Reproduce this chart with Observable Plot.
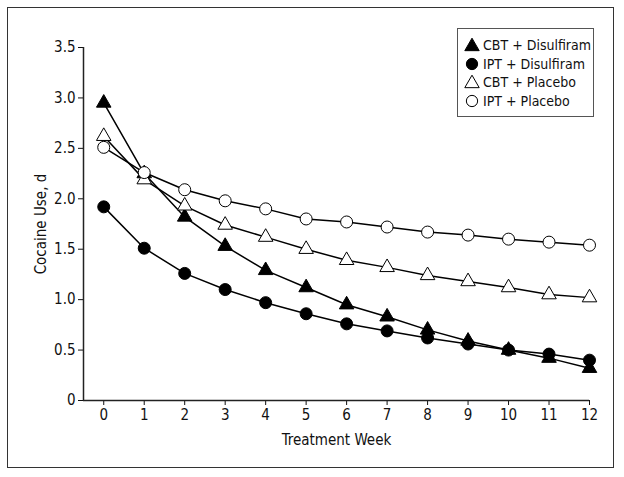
<!DOCTYPE html>
<html>
<head>
<meta charset="utf-8">
<script src="https://cdn.jsdelivr.net/npm/d3@7"></script>
<script src="https://cdn.jsdelivr.net/npm/@observablehq/plot@0.6"></script>
<style>
  html, body { margin: 0; padding: 0; background: #fff; }
  #wrap { position: relative; width: 624px; height: 477px; font-family: "Liberation Sans Narrow", "Arial Narrow", "DejaVu Sans Condensed", sans-serif; }
  #border { position: absolute; left: 7px; top: 7px; width: 605px; height: 459px; border: 1.5px solid #333; pointer-events: none; }
  #legend { position: absolute; left: 457px; top: 28px; width: 137px; height: 89px; border: 1px solid #555; background: #fff; box-sizing: border-box; padding: 7px 0 0 6px; }
  .item { display: flex; align-items: center; height: 18.5px; font-size: 14px; color: #111; white-space: nowrap; }
  .item svg { margin-right: 3px; flex: none; }
</style>
</head>
<body>
<div id="wrap">
  <div id="chart"></div>
  <div id="border"></div>
  <div id="legend"></div>
</div>
<script>
const weeks = [0,1,2,3,4,5,6,7,8,9,10,11,12];
const seriesNames = ["CBT + Disulfiram", "IPT + Disulfiram", "CBT + Placebo", "IPT + Placebo"];
const cbtDisulfiram = [2.95, 2.25, 1.82, 1.53, 1.29, 1.12, 0.95, 0.83, 0.70, 0.59, 0.50, 0.42, 0.32];
const iptDisulfiram = [1.92, 1.51, 1.26, 1.10, 0.97, 0.86, 0.76, 0.69, 0.62, 0.56, 0.50, 0.46, 0.40];
const cbtPlacebo    = [2.62, 2.19, 1.93, 1.74, 1.62, 1.50, 1.39, 1.32, 1.24, 1.18, 1.12, 1.05, 1.02];
const iptPlacebo    = [2.51, 2.26, 2.09, 1.98, 1.90, 1.80, 1.77, 1.72, 1.67, 1.64, 1.60, 1.57, 1.54];
const yTicks = [0, 0.5, 1.0, 1.5, 2.0, 2.5, 3.0, 3.5];

const styles = {
  "CBT + Disulfiram": {symbol: "triangle", fill: "black", r: 5.4},
  "IPT + Disulfiram": {symbol: "circle", fill: "black", r: 6},
  "CBT + Placebo": {symbol: "triangle", fill: "white", r: 5.4},
  "IPT + Placebo": {symbol: "circle", fill: "white", r: 6}
};
const values = [cbtDisulfiram, iptDisulfiram, cbtPlacebo, iptPlacebo];
const data = [];
seriesNames.forEach((s, i) => weeks.forEach((w, j) => data.push({series: s, week: w, value: values[i][j]})));
// draw order for markers: filled circles, filled triangles, open triangles, open circles
const dotOrder = ["IPT + Disulfiram", "CBT + Disulfiram", "CBT + Placebo", "IPT + Placebo"];

const font = '"Liberation Sans Narrow", "Arial Narrow", "DejaVu Sans Condensed", sans-serif';

const chart = Plot.plot({
  width: 624,
  height: 477,
  marginLeft: 83,
  marginRight: 35,
  marginTop: 47,
  marginBottom: 77,
  style: {fontFamily: font, fontSize: "15px", color: "#111", background: "transparent"},
  x: {domain: [-0.5, 12]},
  y: {domain: [0, 3.5]},
  marks: [
    Plot.axisX({ticks: weeks, tickSize: 5, tickPadding: 4, fontSize: 15,
      label: "Treatment Week", labelAnchor: "center", labelOffset: 44, labelArrow: "none"}),
    Plot.axisY({ticks: yTicks, tickSize: 5, tickPadding: 3, fontSize: 15,
      tickFormat: d => d === 0 ? "0" : d.toFixed(1),
      label: "Cocaine Use, d", labelAnchor: "center", labelOffset: 48, labelArrow: "none"}),
    Plot.ruleY([0], {stroke: "#222", strokeWidth: 1.5}),
    Plot.ruleX([-0.5], {y1: 0, y2: 3.5, stroke: "#222", strokeWidth: 1.5}),
    Plot.line(data, {x: "week", y: "value", z: "series", stroke: "black", strokeWidth: 1.5}),
    ...dotOrder.map(s => Plot.dot(data.filter(d => d.series === s), {x: "week", y: "value",
      symbol: styles[s].symbol, fill: styles[s].fill,
      stroke: "black", strokeWidth: 1, r: styles[s].r}))
  ]
});
document.getElementById("chart").appendChild(chart);

// legend
const legend = d3.select("#legend");
seriesNames.forEach(s => {
  const st = styles[s];
  const item = legend.append("div").attr("class", "item");
  const svg = item.append("svg").attr("width", 16).attr("height", 16);
  const sym = st.symbol === "triangle" ? d3.symbolTriangle : d3.symbolCircle;
  svg.append("path")
    .attr("transform", st.symbol === "triangle" ? "translate(8,9.5)" : "translate(8,8)")
    .attr("d", d3.symbol(sym, st.symbol === "triangle" ? 90 : 100)())
    .attr("fill", st.fill)
    .attr("stroke", "black")
    .attr("stroke-width", 1);
  item.append("span").text(s);
});
</script>
</body>
</html>
